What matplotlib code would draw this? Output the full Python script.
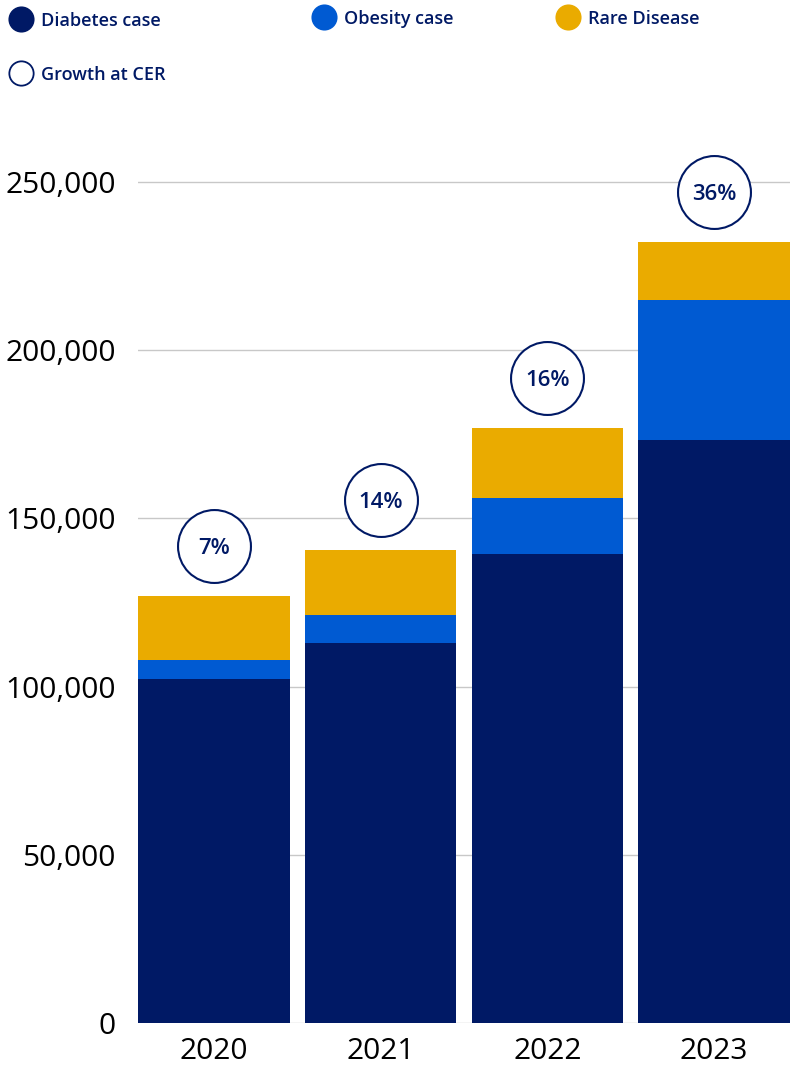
import matplotlib.pyplot as plt
from matplotlib.lines import Line2D
from matplotlib.transforms import ScaledTranslation

plt.rcParams['font.family'] = ['Open Sans', 'DejaVu Sans']

NAVY = '#001965'
BLUE = '#005ad2'
GOLD = '#eaab00'

years = ['2020', '2021', '2022', '2023']
diabetes = [102300, 113000, 139400, 173300]
obesity = [5600, 8300, 16700, 41600]
rare = [19000, 19300, 20800, 17300]
growth = ['7%', '14%', '16%', '36%']

W, H = 790, 1068
fig = plt.figure(figsize=(W / 100, H / 100), dpi=100)
ax = fig.add_axes([138 / W, 45 / H, 1 - 138 / W, (1023 - 148.4) / H])

x = range(len(years))
bw = 0.91
ax.bar(x, diabetes, width=bw, color=NAVY, zorder=2)
ax.bar(x, obesity, width=bw, bottom=diabetes, color=BLUE, zorder=2)
bottom3 = [d + o for d, o in zip(diabetes, obesity)]
ax.bar(x, rare, width=bw, bottom=bottom3, color=GOLD, zorder=2)

# growth bubbles 50 px above each stack
totals = [b + r for b, r in zip(bottom3, rare)]
lift = ScaledTranslation(0, 0.5, fig.dpi_scale_trans)
for i, (t, g) in enumerate(zip(totals, growth)):
    ax.plot([i], [t], marker='o', markersize=52.5, markerfacecolor='white',
            markeredgecolor=NAVY, markeredgewidth=1.5, zorder=3, clip_on=False,
            transform=ax.transData + lift)
    ax.text(i, t, g, ha='center', va='center_baseline', fontsize=16,
            fontweight='semibold', color=NAVY, zorder=4, clip_on=False,
            transform=ax.transData + lift)

ax.set_xlim(-bw / 2, len(years) - 1 + bw / 2)
ax.set_ylim(0, 260000)
ax.set_yticks(range(0, 250001, 50000))
ax.set_yticklabels([f'{v:,}' for v in range(0, 250001, 50000)])
ax.set_xticks(list(x))
ax.set_xticklabels(years)
ax.tick_params(length=0, labelsize=21.5, colors='black')
ax.tick_params(axis='y', pad=16)
ax.tick_params(axis='x', pad=10)
ax.grid(axis='y', color='#c8c8c8', linewidth=1, zorder=0)
ax.set_axisbelow(True)
for s in ax.spines.values():
    s.set_visible(False)

# legend
items = [(21, 19, NAVY, NAVY, 'Diabetes case'),
         (324, 17, BLUE, BLUE, 'Obesity case'),
         (568, 17, GOLD, GOLD, 'Rare Disease'),
         (21, 73, 'white', NAVY, 'Growth at CER')]
for px, py, fc, ec, label in items:
    fig.add_artist(Line2D([px / W], [1 - py / H], marker='o', markersize=17.5,
                          markerfacecolor=fc, markeredgecolor=ec,
                          markeredgewidth=1.3, transform=fig.transFigure))
    fig.text((px + 20) / W, 1 - py / H, label, fontsize=13, fontweight='semibold',
             color=NAVY, va='center_baseline', ha='left')

fig.savefig('out.png', dpi=100)
